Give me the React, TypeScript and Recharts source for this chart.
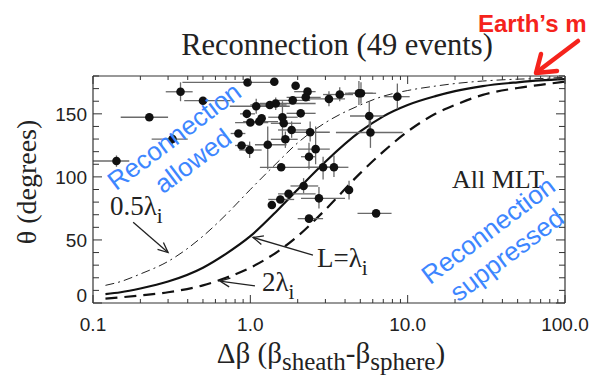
import React from "react";
import {
  ComposedChart,
  XAxis,
  YAxis,
  Line,
  Scatter,
  ErrorBar,
  ReferenceLine,
} from "recharts";

// events: delta beta, shear angle and the ends of their error bars
const eventBeta = [
  0.141, 0.228, 0.36, 0.5, 0.32, 0.96, 1.42, 1.94, 2.31, 2.25, 3.16, 3.7, 4.9,
  5.05, 8.6, 1.86, 1.45, 1.33, 1.09, 0.95, 1.0, 1.14, 1.18, 1.6, 1.63, 2.09,
  1.83, 0.84, 2.4, 5.7, 5.8, 1.67, 1.29, 0.88, 0.99, 2.6, 2.36, 1.57, 2.9, 3.4,
  2.18, 1.75, 1.55, 1.37, 2.73, 2.36, 4.24, 6.3,
];
const eventTheta = [
  112.6, 147.3, 167.5, 160.4, 130, 174.9, 175.5, 172.3, 167.6, 163.1, 161.8,
  165.3, 166.3, 166.3, 163.6, 160.7, 158.2, 157, 156, 150, 143.1, 143.9, 146.5,
  147.3, 142.5, 150.4, 137.2, 134.4, 135.4, 148.3, 135.2, 129.8, 125.5, 124.9,
  121.3, 122, 116, 107.6, 107.6, 107.6, 92.8, 86.6, 82.1, 77.7, 83, 66.9, 89.6,
  71.1,
];
const betaLow = [
  0.1, 0.15, 0.29, 0.38, 0.236, 0.37, 1.42, 1.94, 1.9, 1.7, 2.2, 2.9, 4.0, 4.2,
  7.1, 1.4, 1.15, 1.0, 0.74, 0.86, 0.8, 0.9, 1.18, 1.3, 1.35, 1.7, 1.5, 0.75,
  1.9, 4.3, 3.5, 1.35, 1.07, 0.8, 0.85, 2.0, 2.1, 1.15, 2.3, 2.8, 1.8, 1.5, 1.3,
  1.37, 2.1, 2.0, 4.24, 4.8,
];
const betaHigh = [
  0.17, 0.3, 0.43, 0.75, 0.4, 1.43, 1.42, 1.94, 2.6, 2.8, 4.0, 4.5, 6.3, 6.0,
  10.3, 2.4, 2.6, 1.7, 1.78, 1.07, 1.3, 1.5, 1.18, 2.0, 2.1, 2.6, 2.3, 0.93, 3.2,
  7.0, 9.3, 2.0, 1.7, 1.0, 1.18, 3.2, 2.6, 3.7, 3.5, 4.2, 2.7, 2.6, 1.9, 1.37,
  4.0, 2.9, 4.24, 7.9,
];
const thetaLow = [
  108, 147.3, 160, 160.4, 126, 174.9, 175.5, 172.3, 167.6, 163.1, 156, 160, 157,
  158, 154, 160.7, 153, 157, 150, 150, 143.1, 143.9, 146.5, 128, 142.5, 150.4,
  131, 134.4, 128, 137, 123, 123, 106, 124.9, 115, 110, 106, 107.6, 98, 100, 87,
  86.6, 82.1, 77.7, 75, 66.9, 82, 71.1,
];
const thetaHigh = [
  117, 147.3, 175, 160.4, 134, 174.9, 175.5, 172.3, 167.6, 163.1, 168, 171, 176,
  175, 174, 160.7, 163, 157, 162, 150, 143.1, 143.9, 146.5, 160, 142.5, 150.4,
  144, 134.4, 144, 160, 145, 136, 140, 124.9, 128, 140, 127, 107.6, 116, 117, 99,
  86.6, 82.1, 77.7, 92, 66.9, 97, 71.1,
];

// model curves for L = 0.5, 1 and 2 ion inertial lengths
const curveBeta = [
  0.12, 0.15, 0.2, 0.3, 0.5, 0.7, 1, 1.5, 2, 3, 5, 7, 10, 15, 20, 30, 50, 70, 100,
];
const thetaHalf = [
  14, 17, 23, 33, 53, 70, 90, 112, 127, 143, 157, 164, 168.5, 172, 174, 176,
  177.5, 178, 179,
];
const thetaOne = [
  7, 8.5, 11.5, 17, 28, 39, 53, 74, 90, 112, 136, 148, 157, 164, 168, 172, 175,
  176.5, 177.5,
];
const thetaTwo = [
  3.5, 4.5, 6, 8.5, 14, 20, 28, 41, 53, 74, 103, 120, 136, 150, 157, 165, 170.5,
  173, 175.5,
];

const xTicks = [
  0.1, 0.2, 0.3, 0.4, 0.5, 0.6, 0.7, 0.8, 0.9, 1, 2, 3, 4, 5, 6, 7, 8, 9, 10,
  20, 30, 40, 50, 60, 70, 80, 90, 100,
];
const xMajor = [0.1, 1, 10, 100];
const xLabels = ["0.1", "1.0", "10.0", "100.0"];
const yTicks = [
  0, 10, 20, 30, 40, 50, 60, 70, 80, 90, 100, 110, 120, 130, 140, 150, 160, 170,
  180,
];
const yMajor = [0, 50, 100, 150];

const SERIF = "'Liberation Serif', 'Times New Roman', serif";
const SANS = "'Liberation Sans', Arial, Helvetica, sans-serif";
const BLUE = "#3d86ff";
const RED = "#f5231c";
const AXIS = "#333";

const events = eventBeta.map((b, i) => ({
  beta: b,
  theta: eventTheta[i],
  xErr: [b - betaLow[i], betaHigh[i] - b],
  yErr: [eventTheta[i] - thetaLow[i], thetaHigh[i] - eventTheta[i]],
}));
const makeCurve = (vals: number[]) =>
  curveBeta.map((b, i) => ({ beta: b, theta: vals[i] }));

// pointer arrows from the curve labels (data coords)
const pointers = [
  { from: { x: 0.18, y: 64 }, to: { x: 0.3, y: 40 } },
  { from: { x: 2.5, y: 38 }, to: { x: 1.04, y: 52 } },
  { from: { x: 1.07, y: 13.5 }, to: { x: 0.64, y: 17.4 } },
];

const Arrow = (p: any) => {
  const { x1, y1, x2, y2 } = p;
  const a = Math.atan2(y2 - y1, x2 - x1);
  const len = 11;
  const w = 0.42;
  const ax = x2 - len * Math.cos(a - w);
  const ay = y2 - len * Math.sin(a - w);
  const bx = x2 - len * Math.cos(a + w);
  const by = y2 - len * Math.sin(a + w);
  return (
    <g>
      <line x1={x1} y1={y1} x2={x2} y2={y2} stroke="#222" strokeWidth={1.3} />
      <polyline
        points={`${ax},${ay} ${x2},${y2} ${bx},${by}`}
        fill="none"
        stroke="#222"
        strokeWidth={1.3}
      />
    </g>
  );
};

const BottomTick = (p: any) => {
  const v = p.payload.value;
  const k = xMajor.indexOf(v);
  return (
    <g>
      <line x1={p.x} y1={p.y} x2={p.x} y2={p.y - (k >= 0 ? 8 : 4)} stroke={AXIS} />
      {k >= 0 && (
        <text x={p.x} y={p.y + 28} textAnchor="middle" fontFamily={SANS} fontSize={19} fill="#222">
          {xLabels[k]}
        </text>
      )}
    </g>
  );
};

const TopTick = (p: any) => {
  const major = xMajor.includes(p.payload.value);
  return <line x1={p.x} y1={p.y} x2={p.x} y2={p.y + (major ? 8 : 4)} stroke={AXIS} />;
};

const LeftTick = (p: any) => {
  const v = p.payload.value;
  const major = yMajor.includes(v);
  return (
    <g>
      <line x1={p.x} y1={p.y} x2={p.x + (major ? 9 : 6)} y2={p.y} stroke={AXIS} />
      {major && (
        <text
          x={p.x - 6}
          y={v === 0 ? p.y - 1 : p.y + 7}
          textAnchor="end"
          fontFamily={SANS}
          fontSize={19}
          fill="#222"
        >
          {v}
        </text>
      )}
    </g>
  );
};

const RightTick = (p: any) => {
  const major = yMajor.includes(p.payload.value);
  return <line x1={p.x} y1={p.y} x2={p.x - (major ? 9 : 6)} y2={p.y} stroke={AXIS} />;
};

const EventDot = (p: any) => <circle cx={p.cx} cy={p.cy} r={4.3} fill="#111" />;

export default function App() {
  return (
    <div style={{ position: "absolute", left: 0, top: 0, width: 595, height: 375, background: "#fff" }}>
      <ComposedChart width={595} height={375} margin={{ top: 0, right: 0, bottom: 0, left: 0 }}>
        <XAxis
          xAxisId="bottom"
          dataKey="beta"
          type="number"
          scale="log"
          domain={[0.1, 100]}
          allowDataOverflow
          ticks={xTicks}
          interval={0}
          tickSize={0}
          tickMargin={0}
          tick={<BottomTick />}
          height={72}
          axisLine={{ stroke: AXIS, strokeWidth: 1.2 }}
        />
        <XAxis
          xAxisId="top"
          orientation="top"
          dataKey="beta"
          type="number"
          scale="log"
          domain={[0.1, 100]}
          allowDataOverflow
          ticks={xTicks}
          interval={0}
          tickSize={0}
          tickMargin={0}
          tick={<TopTick />}
          height={76}
          axisLine={{ stroke: AXIS, strokeWidth: 1.2 }}
        />
        <YAxis
          yAxisId="left"
          dataKey="theta"
          type="number"
          domain={[0, 180]}
          allowDataOverflow
          ticks={yTicks}
          interval={0}
          tickSize={0}
          tickMargin={0}
          tick={<LeftTick />}
          width={93}
          axisLine={{ stroke: AXIS, strokeWidth: 1.2 }}
        />
        <YAxis
          yAxisId="right"
          orientation="right"
          dataKey="theta"
          type="number"
          domain={[0, 180]}
          allowDataOverflow
          ticks={yTicks}
          interval={0}
          tickSize={0}
          tickMargin={0}
          tick={<RightTick />}
          width={30}
          axisLine={{ stroke: AXIS, strokeWidth: 1.2 }}
        />

        <Line
          xAxisId="bottom"
          yAxisId="left"
          data={makeCurve(thetaHalf)}
          dataKey="theta"
          type="monotone"
          dot={false}
          stroke="#222"
          strokeWidth={1}
          strokeDasharray="9 4 2 4"
          isAnimationActive={false}
        />
        <Line
          xAxisId="bottom"
          yAxisId="left"
          data={makeCurve(thetaOne)}
          dataKey="theta"
          type="monotone"
          dot={false}
          stroke="#111"
          strokeWidth={2.2}
          isAnimationActive={false}
        />
        <Line
          xAxisId="bottom"
          yAxisId="left"
          data={makeCurve(thetaTwo)}
          dataKey="theta"
          type="monotone"
          dot={false}
          stroke="#111"
          strokeWidth={2.2}
          strokeDasharray="12 7"
          isAnimationActive={false}
        />

        <Scatter
          xAxisId="bottom"
          yAxisId="left"
          data={events}
          dataKey="theta"
          shape={<EventDot />}
          isAnimationActive={false}
        >
          <ErrorBar dataKey="xErr" direction="x" width={0} stroke="#6a6a6a" strokeWidth={1.3} />
          <ErrorBar dataKey="yErr" direction="y" width={0} stroke="#6a6a6a" strokeWidth={1.3} />
        </Scatter>

        {pointers.map((a, i) => (
          <ReferenceLine
            key={i}
            xAxisId="bottom"
            yAxisId="left"
            segment={[a.from, a.to]}
            ifOverflow="visible"
            shape={<Arrow />}
          />
        ))}
      </ComposedChart>

      <svg
        width={595}
        height={375}
        style={{ position: "absolute", left: 0, top: 0, pointerEvents: "none" }}
      >
        <text x={337} y={55} textAnchor="middle" fontFamily={SERIF} fontSize={30.5} fill="#222">
          Reconnection (49 events)
        </text>
        <text x={478} y={32} fontFamily={SANS} fontWeight="bold" fontSize={24} fill={RED}>
          Earth’s m
        </text>
        <line x1={578} y1={41} x2={537} y2={72} stroke={RED} strokeWidth={4.5} strokeLinecap="round" />
        <polyline
          points="557,71 536,73 541,54"
          fill="none"
          stroke={RED}
          strokeWidth={4.5}
          strokeLinecap="round"
          strokeLinejoin="round"
        />

        <text
          transform="translate(36,182) rotate(-90)"
          textAnchor="middle"
          fontFamily={SERIF}
          fontSize={28}
          fill="#222"
        >
          θ (degrees)
        </text>
        <text x={331} y={363} textAnchor="middle" fontFamily={SERIF} fontSize={29} fill="#222">
          Δβ (β
          <tspan dy={7} fontSize={25}>sheath</tspan>
          <tspan dy={-7}>-β</tspan>
          <tspan dy={7} fontSize={25}>sphere</tspan>
          <tspan dy={-7}>)</tspan>
        </text>

        <text x={452} y={188} fontFamily={SERIF} fontSize={26} fill="#222">
          All MLT
        </text>
        <text x={110} y={215} fontFamily={SERIF} fontSize={27} fill="#222">
          0.5λ<tspan dy={8} fontSize={21}>i</tspan>
        </text>
        <text x={317} y={267} fontFamily={SERIF} fontSize={27} fill="#222">
          L=λ<tspan dy={8} fontSize={21}>i</tspan>
        </text>
        <text x={262} y={291} fontFamily={SERIF} fontSize={27} fill="#222">
          2λ<tspan dy={8} fontSize={21}>i</tspan>
        </text>

        <g transform="translate(183.5,148.5) rotate(-37)" fontFamily={SANS} fontSize={26} fill={BLUE}>
          <text x={0} y={-6.5} textAnchor="middle">Reconnection</text>
          <text x={0} y={24.5} textAnchor="middle">allowed</text>
        </g>
        <g transform="translate(497.5,242.5) rotate(-37)" fontFamily={SANS} fontSize={26} fill={BLUE}>
          <text x={0} y={-6.5} textAnchor="middle">Reconnection</text>
          <text x={0} y={24.5} textAnchor="middle">suppressed</text>
        </g>
      </svg>
    </div>
  );
}
